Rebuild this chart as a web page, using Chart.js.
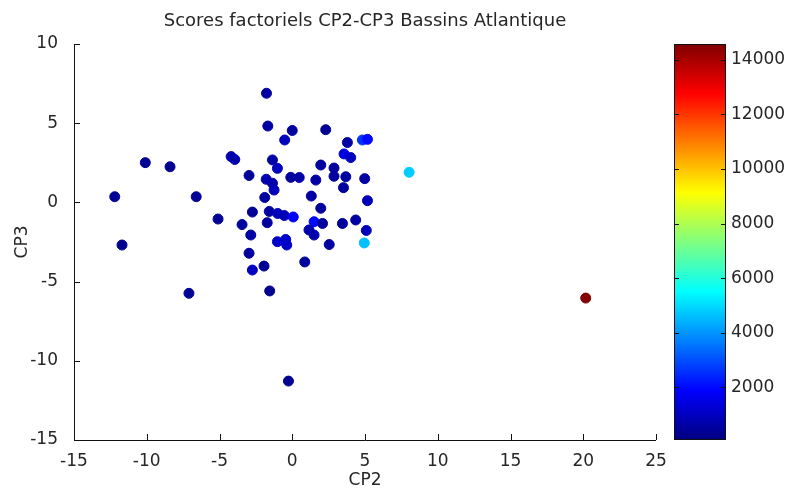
<!DOCTYPE html>
<html><head><meta charset="utf-8">
<script src="https://cdn.jsdelivr.net/npm/chart.js@4/dist/chart.umd.min.js"></script>
<style>html,body{margin:0;padding:0;background:#fff}canvas{display:block}</style>
</head><body><canvas id="c" width="791" height="495" style="width:791px;height:495px"></canvas>
<script>
const titleText = 'Scores factoriels CP2-CP3 Bassins Atlantique';
const xTitle = 'CP2';
const yTitle = 'CP3';
const cp2 = [-12.2,-11.7,-10.1,-8.4,-7.1,-6.6,-5.1,-4.2,-3.95,-3.45,-2.97,-2.74,-2.85,-2.97,-2.74,-1.94,-1.55,-0.26,-1.77,-1.68,0.0,-0.52,2.30,3.79,4.82,5.17,3.56,4.02,-1.36,-1.02,1.96,2.87,-1.79,-1.36,-1.25,-0.10,0.48,1.62,2.87,3.68,4.98,3.52,8.03,-1.89,1.31,5.17,-1.58,-1.00,-0.55,0.07,-1.72,-1.02,-0.45,-0.38,0.86,1.50,1.15,1.50,2.08,3.45,4.36,5.09,4.95,2.54,1.96,20.17];
const cp3 = [0.36,-2.69,2.51,2.25,-5.74,0.36,-1.05,2.89,2.71,-1.40,1.70,-0.61,-2.06,-3.21,-4.27,-4.02,-5.59,-11.28,6.89,4.82,4.54,3.94,4.59,3.78,3.94,3.98,3.06,2.83,2.68,2.15,2.36,2.17,1.46,1.21,0.78,1.58,1.57,1.41,1.65,1.62,1.50,0.93,1.90,0.31,0.40,0.11,-0.57,-0.70,-0.83,-0.92,-1.28,-2.48,-2.34,-2.69,-3.76,-1.22,-1.74,-2.06,-1.33,-1.33,-1.11,-1.77,-2.56,-2.66,-0.37,-6.04];
const colourValue = [400,300,400,300,400,400,400,700,700,500,400,400,600,500,1000,400,300,300,500,600,500,900,400,600,2600,2000,1500,1000,600,1000,500,500,700,700,900,500,600,600,500,500,600,500,4800,500,600,900,600,900,900,1800,500,1200,1200,1100,500,2000,700,700,500,500,500,900,4600,500,500,14550];
const xTicks = [-15,-10,-5,0,5,10,15,20,25];
const yTicks = [-15,-10,-5,0,5,10];
const cbTicks = [2000,4000,6000,8000,10000,12000,14000];
const cbMin = 62, cbMax = 14585;

const FONT = 'DejaVu Sans';
const TXT = '#262626';

function clamp01(v){return Math.max(0,Math.min(1,v));}
function jet(t){
  t = clamp01(t);
  const r = clamp01(1.5 - Math.abs(4*t-3));
  const g = clamp01(1.5 - Math.abs(4*t-2));
  const b = clamp01(1.5 - Math.abs(4*t-1));
  return `rgb(${Math.round(r*255)},${Math.round(g*255)},${Math.round(b*255)})`;
}
function colourOf(v){return jet((v-cbMin)/(cbMax-cbMin));}

const points = cp2.map((x,i)=>({x:x,y:cp3[i]}));

const bar = {gap:18, width:52, tick:5};

const decor = {
  id:'decor',
  afterDraw(chart){
    const ctx = chart.ctx, a = chart.chartArea;
    const xs = chart.scales.x, ys = chart.scales.y, cb = chart.scales.cb;
    ctx.save();
    ctx.strokeStyle = '#111'; ctx.lineWidth = 1;
    ctx.beginPath();
    ctx.moveTo(a.left+0.5, a.top); ctx.lineTo(a.left+0.5, a.bottom+0.5); ctx.lineTo(a.right, a.bottom+0.5);
    xTicks.forEach(v=>{const p=Math.round(xs.getPixelForValue(v))+0.5; ctx.moveTo(p,a.bottom); ctx.lineTo(p,a.bottom-6);});
    yTicks.forEach(v=>{const p=Math.round(ys.getPixelForValue(v))+0.5; ctx.moveTo(a.left,p); ctx.lineTo(a.left+6,p);});
    ctx.stroke();
    const bx = a.right + bar.gap, bw = bar.width;
    const top = cb.getPixelForValue(cbMax), bot = cb.getPixelForValue(cbMin);
    const g = ctx.createLinearGradient(0, bot, 0, top);
    for(let i=0;i<=64;i++){ g.addColorStop(i/64, jet(i/64)); }
    ctx.fillStyle = g;
    ctx.fillRect(bx, top, bw, bot-top);
    ctx.strokeStyle = '#111';
    ctx.strokeRect(bx+0.5, top+0.5, bw-1, bot-top-1);
    ctx.beginPath();
    cbTicks.forEach(v=>{const p=Math.round(cb.getPixelForValue(v))+0.5; ctx.moveTo(bx,p); ctx.lineTo(bx+bar.tick,p); ctx.moveTo(bx+bw,p); ctx.lineTo(bx+bw-bar.tick,p);});
    ctx.stroke();
    ctx.fillStyle = TXT;
    ctx.font = `18px "${FONT}"`;
    ctx.textAlign = 'center'; ctx.textBaseline = 'middle';
    ctx.fillText(titleText, (a.left+a.right)/2, 21);
    ctx.restore();
  }
};

new Chart(document.getElementById('c'), {
  type:'scatter',
  data:{datasets:[{
    data: points,
    pointRadius: 5,
    pointHoverRadius: 5,
    pointBorderWidth: 1,
    pointBackgroundColor: ctx => colourOf(colourValue[ctx.dataIndex]),
    pointBorderColor: ctx => colourOf(colourValue[ctx.dataIndex])
  }]},
  options:{
    responsive:false,
    animation:false,
    devicePixelRatio:1,
    layout:{padding:{top:44,left:0,right:0,bottom:0}},
    plugins:{legend:{display:false}, tooltip:{enabled:false}, title:{display:false}},
    scales:{
      x:{type:'linear', min:-15, max:25,
        afterBuildTicks: s=>{s.ticks = xTicks.map(v=>({value:v}));},
        afterFit: s=>{s.height = 55;},
        grid:{display:false}, border:{display:false},
        ticks:{autoSkip:false, maxRotation:0, padding:3, color:TXT, font:{family:FONT, size:17}},
        title:{display:true, text:xTitle, color:TXT, font:{family:FONT, size:17}, padding:{top:2,bottom:4}}
      },
      y:{type:'linear', min:-15, max:10,
        afterBuildTicks: s=>{s.ticks = yTicks.map(v=>({value:v}));},
        afterFit: s=>{s.width = 74; s.paddingTop = 0; s.paddingBottom = 0;},
        grid:{display:false}, border:{display:false},
        ticks:{autoSkip:false, padding:8, color:TXT, font:{family:FONT, size:17}},
        title:{display:true, text:yTitle, color:TXT, font:{family:FONT, size:17}, padding:{top:12,bottom:4}}
      },
      cb:{type:'linear', position:'right', min:cbMin, max:cbMax,
        afterBuildTicks: s=>{s.ticks = cbTicks.map(v=>({value:v}));},
        afterFit: s=>{s.width = 791-656; s.paddingTop = 0; s.paddingBottom = 0;},
        grid:{display:false, drawTicks:false}, border:{display:false},
        ticks:{autoSkip:false, padding: bar.gap+bar.width+5, color:TXT, font:{family:FONT, size:17}, callback:v=>String(v)}
      }
    }
  },
  plugins:[decor]
});
</script>
</body></html>
